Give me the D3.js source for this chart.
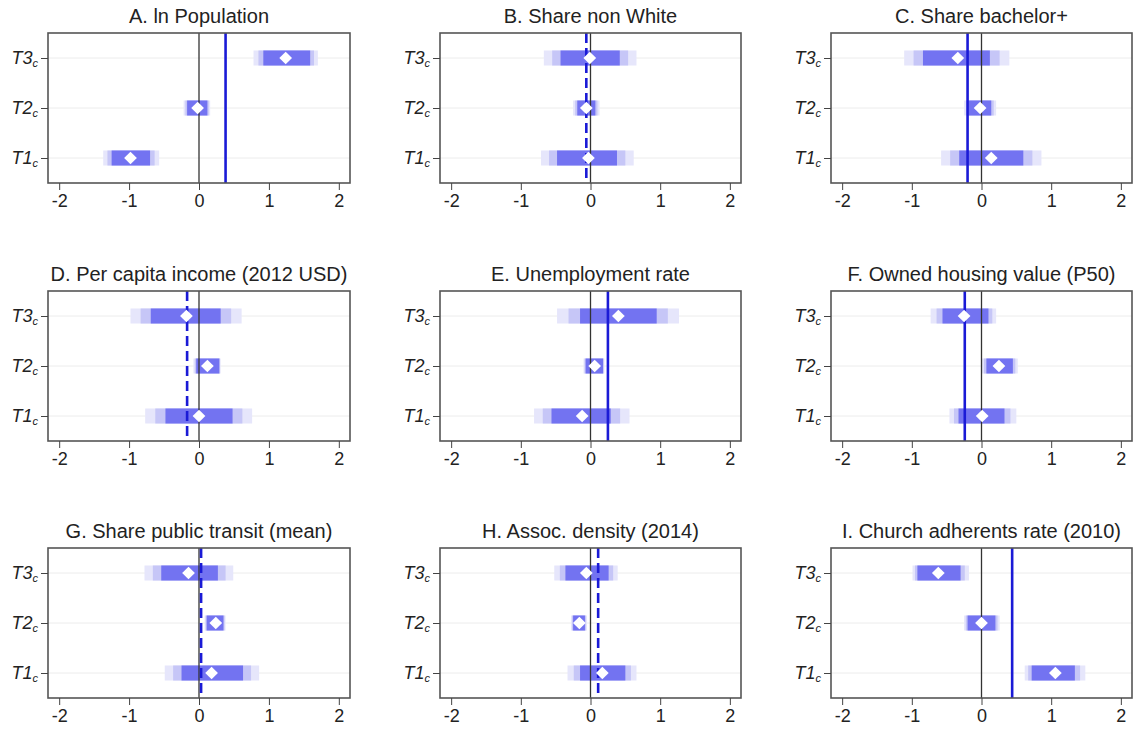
<!DOCTYPE html>
<html>
<head>
<meta charset="utf-8">
<script src="https://cdn.jsdelivr.net/npm/d3@7"></script>
<style>
    body { margin: 0; background: #fff; }
    svg { font-family: "Liberation Sans", Arial, sans-serif; }
</style>
</head>
<body>
<div id="chart"></div>
<script>
// panel titles, row labels and x ticks
const panelTitles = [
    'A. ln Population', 'B. Share non White', 'C. Share bachelor+',
    'D. Per capita income (2012 USD)', 'E. Unemployment rate', 'F. Owned housing value (P50)',
    'G. Share public transit (mean)', 'H. Assoc. density (2014)', 'I. Church adherents rate (2010)'
];
const rowLabels = ['T3', 'T2', 'T1'];
const xTicks = [-2, -1, 0, 1, 2];

// point estimates per panel, order T3, T2, T1
const pointEst = [
    [1.24, -0.02, -0.98], [-0.01, -0.06, -0.03], [-0.34, -0.02, 0.14],
    [-0.18, 0.12, 0.00], [0.40, 0.06, -0.12], [-0.25, 0.25, 0.01],
    [-0.15, 0.24, 0.18], [-0.06, -0.16, 0.17], [-0.62, 0.00, 1.06]
];
// outer (widest) interval
const outerLo = [
    [0.78, -0.22, -1.37], [-0.67, -0.25, -0.71], [-1.11, -0.25, -0.58],
    [-0.98, -0.08, -0.77], [-0.48, -0.10, -0.81], [-0.73, 0.00, -0.46],
    [-0.78, 0.08, -0.49], [-0.52, -0.28, -0.33], [-0.99, -0.25, 0.62]
];
const outerHi = [
    [1.70, 0.16, -0.57], [0.66, 0.13, 0.62], [0.40, 0.21, 0.86],
    [0.61, 0.31, 0.76], [1.27, 0.20, 0.56], [0.21, 0.52, 0.50],
    [0.49, 0.38, 0.86], [0.39, -0.05, 0.66], [-0.18, 0.26, 1.49]
];
// inner (dark) interval
const innerLo = [
    [0.92, -0.17, -1.25], [-0.43, -0.19, -0.48], [-0.84, -0.19, -0.32],
    [-0.69, -0.04, -0.48], [-0.15, -0.07, -0.56], [-0.56, 0.07, -0.33],
    [-0.54, 0.11, -0.25], [-0.36, -0.25, -0.15], [-0.92, -0.20, 0.72]
];
const innerHi = [
    [1.59, 0.12, -0.70], [0.42, 0.07, 0.38], [0.12, 0.14, 0.60],
    [0.31, 0.29, 0.48], [0.95, 0.18, 0.29], [0.10, 0.45, 0.33],
    [0.27, 0.35, 0.63], [0.26, -0.08, 0.50], [-0.30, 0.20, 1.34]
];
// blue reference line and whether it is dashed
const refLine = [0.38, -0.06, -0.20, -0.17, 0.25, -0.24, 0.03, 0.11, 0.44];
const refDashed = [false, true, false, true, false, false, true, true, false];

const width = 1135, height = 733;
const colLeft = [48, 440, 831];
const colRight = [350, 741, 1132];
const rowTop = [33, 291, 548];
const plotH = 150;
const barH = 15;

const svg = d3.select('#chart').append('svg')
    .attr('width', width)
    .attr('height', height);

panelTitles.forEach((title, i) => {
    const col = i % 3, row = Math.floor(i / 3);
    const left = colLeft[col], right = colRight[col];
    const top = rowTop[row], bottom = top + plotH;

    const x = d3.scaleLinear().domain([-2.16, 2.16]).range([left, right]);
    const y = d3.scalePoint().domain(rowLabels).range([top, bottom]).padding(0.5);

    const g = svg.append('g');

    // light grid
    g.selectAll('.grid')
        .data(rowLabels)
        .enter().append('line')
        .attr('x1', left).attr('x2', right)
        .attr('y1', d => y(d)).attr('y2', d => y(d))
        .attr('stroke', '#ececec').attr('stroke-width', 1);

    const rows = rowLabels.map((r, k) => ({
        r: r,
        est: pointEst[i][k],
        olo: outerLo[i][k], ohi: outerHi[i][k],
        ilo: innerLo[i][k], ihi: innerHi[i][k]
    }));

    // smoothed CI bands: outer, middle, inner
    const layers = [
        { lo: d => d.olo, hi: d => d.ohi, fill: '#e6e6fb' },
        { lo: d => (d.olo + d.ilo) / 2, hi: d => (d.ohi + d.ihi) / 2, fill: '#c6c6f7' },
        { lo: d => d.ilo, hi: d => d.ihi, fill: '#7373f1' }
    ];
    layers.forEach(layer => {
        g.selectAll(null)
            .data(rows)
            .enter().append('rect')
            .attr('x', d => x(layer.lo(d)))
            .attr('width', d => x(layer.hi(d)) - x(layer.lo(d)))
            .attr('y', d => y(d.r) - barH / 2)
            .attr('height', barH)
            .attr('fill', layer.fill);
    });

    // zero line
    g.append('line')
        .attr('x1', x(0)).attr('x2', x(0))
        .attr('y1', top).attr('y2', bottom)
        .attr('stroke', '#333').attr('stroke-width', 1.3);

    // blue reference line
    g.append('line')
        .attr('x1', x(refLine[i])).attr('x2', x(refLine[i]))
        .attr('y1', top).attr('y2', bottom)
        .attr('stroke', '#1a1ad6').attr('stroke-width', 2.6)
        .attr('stroke-dasharray', refDashed[i] ? '10,5' : null);

    // diamonds
    g.selectAll('.pt')
        .data(rows)
        .enter().append('path')
        .attr('d', d3.symbol().type(d3.symbolSquare).size(81))
        .attr('transform', d => `translate(${x(d.est)},${y(d.r)}) rotate(45)`)
        .attr('fill', '#fff');

    // frame
    g.append('rect')
        .attr('x', left).attr('y', top)
        .attr('width', right - left).attr('height', plotH)
        .attr('fill', 'none')
        .attr('stroke', '#555').attr('stroke-width', 1.6);

    // x axis
    const xAxis = g.append('g')
        .attr('transform', `translate(0,${bottom})`)
        .call(d3.axisBottom(x).tickValues(xTicks).tickSize(7).tickPadding(4)
            .tickFormat(d => String(d)));
    xAxis.select('.domain').remove();
    xAxis.selectAll('.tick line').attr('stroke', '#444');
    xAxis.selectAll('.tick text')
        .attr('font-size', 18).attr('fill', '#222')
        .style('font-family', '"Liberation Sans", Arial, sans-serif');

    // y axis
    const yAxis = g.append('g')
        .attr('transform', `translate(${left},0)`)
        .call(d3.axisLeft(y).tickSize(7).tickPadding(3));
    yAxis.select('.domain').remove();
    yAxis.selectAll('.tick line').attr('stroke', '#444');
    yAxis.selectAll('.tick text')
        .text(null)
        .attr('font-size', 18).attr('fill', '#222')
        .style('font-family', '"Liberation Sans", Arial, sans-serif')
        .style('font-style', 'italic')
        .each(function(d) {
            const t = d3.select(this);
            t.append('tspan').text(d);
            t.append('tspan').attr('font-size', 11).attr('dy', 3).text('c');
        });

    // title
    svg.append('text')
        .attr('x', (left + right) / 2)
        .attr('y', top - 10)
        .attr('text-anchor', 'middle')
        .attr('font-size', 20)
        .attr('fill', '#222')
        .text(title);
});
</script>
</body>
</html>
